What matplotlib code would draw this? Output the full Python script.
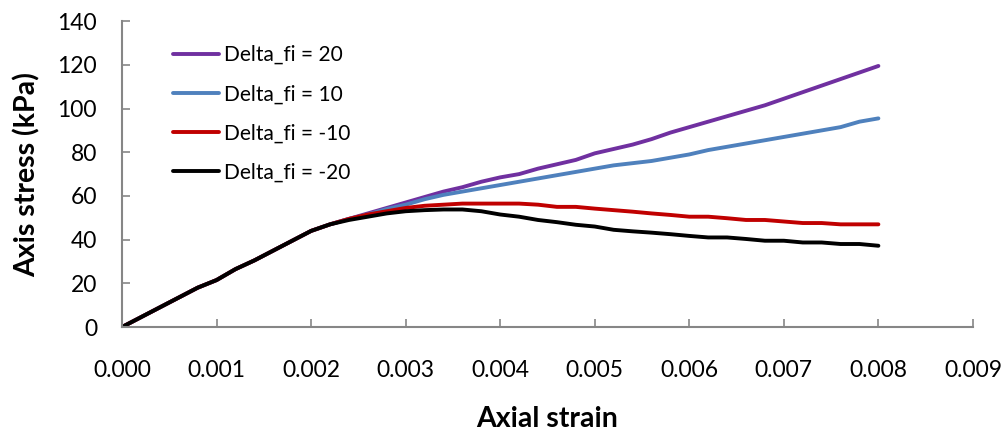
import matplotlib.pyplot as plt
import numpy as np

plt.rcParams['font.family'] = ['Lato', 'DejaVu Sans']

strain = np.arange(41) * 0.0002

# shared elastic part up to 0.0022
common = [0, 4.5, 9, 13.5, 18, 21.5, 26.5, 30.5, 35, 39.5, 44, 47]

fi_p20 = common + [49.5, 52, 54.5, 57, 59.5, 62, 64, 66.5, 68.5, 70, 72.5, 74.5, 76.5,
                   79.5, 81.5, 83.5, 86, 89, 91.5, 94, 96.5, 99, 101.5, 104.5, 107.5,
                   110.5, 113.5, 116.5, 119.5]
fi_p10 = common + [49.5, 51.5, 54, 56, 58.5, 60.5, 62, 63.5, 65, 66.5, 68, 69.5, 71,
                   72.5, 74, 75, 76, 77.5, 79, 81, 82.5, 84, 85.5, 87, 88.5, 90, 91.5,
                   94, 95.5]
fi_m10 = common + [49.5, 51.5, 53, 54.5, 55.5, 56, 56.5, 56.5, 56.5, 56.5, 56, 55, 55,
                   54.2, 53.5, 52.8, 52, 51.3, 50.5, 50.5, 49.8, 49, 49, 48.3, 47.6,
                   47.6, 47, 47, 47]
fi_m20 = common + [49, 50.5, 52, 53, 53.5, 53.8, 53.8, 53, 51.5, 50.5, 49, 48, 46.8,
                   46, 44.5, 43.8, 43.2, 42.5, 41.7, 41, 41, 40.3, 39.5, 39.5, 38.7,
                   38.7, 38, 38, 37.2]

series = [(fi_p20, 'Delta_fi = 20', '#7030A0'),
          (fi_p10, 'Delta_fi = 10', '#4F81BD'),
          (fi_m10, 'Delta_fi = -10', '#C00000'),
          (fi_m20, 'Delta_fi = -20', '#000000')]

fig = plt.figure(figsize=(10.02, 4.32), dpi=100)
ax = fig.add_axes([0.1218, 0.243, 0.8492, 0.708])

for vals, lab, col in series:
    ax.plot(strain, vals, color=col, lw=2.8, label=lab, solid_capstyle='round')

ax.set_xlim(0, 0.009)
ax.set_ylim(0, 140)
ax.set_xticks(np.arange(10) * 0.001)
ax.set_xticklabels([f'{v:.3f}' for v in np.arange(10) * 0.001])
ax.set_yticks(np.arange(0, 141, 20))

for s in ['top', 'right']:
    ax.spines[s].set_visible(False)
for s in ['left', 'bottom']:
    ax.spines[s].set_color('#868686')
    ax.spines[s].set_linewidth(1.5)

ax.tick_params(axis='both', direction='in', length=6, width=1.2, color='#868686',
               labelsize=16.5)
ax.tick_params(axis='x', pad=24)
ax.tick_params(axis='y', pad=18)

ax.set_xlabel('Axial strain', fontsize=20.5, fontweight='bold', labelpad=18)
ax.set_ylabel('Axis stress (kPa)', fontsize=20.5, fontweight='bold', labelpad=12)

ax.legend(loc='upper left', bbox_to_anchor=(0.06, 0.922), frameon=False,
          borderpad=0, borderaxespad=0,
          fontsize=15, handlelength=2.2, handletextpad=0.25, labelspacing=0.92)

fig.savefig('out.png', dpi=100)
